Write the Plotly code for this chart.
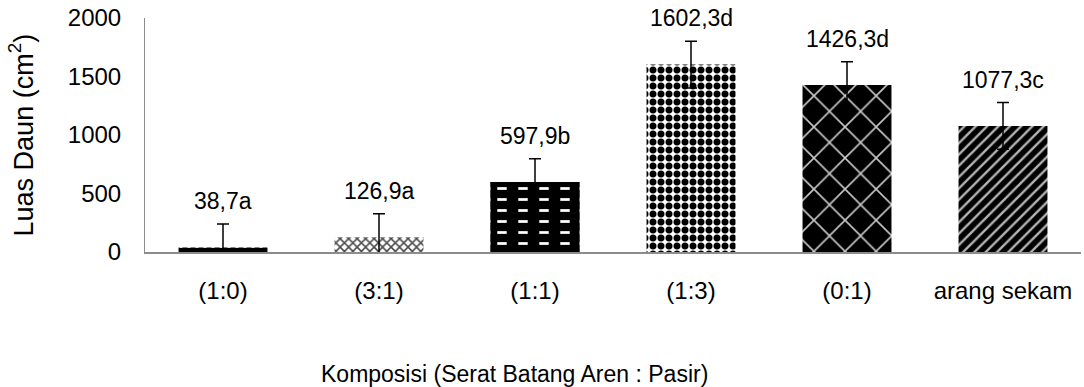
import plotly.graph_objects as go

# Leaf area per growing-medium composition
categories = ["(1:0)", "(3:1)", "(1:1)", "(1:3)", "(0:1)", "arang sekam"]
luas_daun = [38.7, 126.9, 597.9, 1602.3, 1426.3, 1077.3]
galat = [200, 200, 200, 200, 200, 200]
notasi = ["38,7a", "126,9a", "597,9b", "1602,3d", "1426,3d", "1077,3c"]
y_ticks = [0, 500, 1000, 1500, 2000]

FONT = "Liberation Sans, Arial, sans-serif"
BAR_W = 0.57

# Fill pattern for each bar: (shape, foreground, background, size, solidity)
patterns = [
    (".", "#ffffff", "#000000", 8, 0.2),
    ("x", "#4a4a4a", "#ffffff", 6, 0.45),
    ("-", "#ffffff", "#000000", 11, 0.25),
    (".", "#000000", "#ffffff", 8, 0.6),
    ("x", "#c8c8c8", "#000000", 22, 0.14),
    ("/", "#b4b4b4", "#000000", 8, 0.3),
]

fig = go.Figure()
for c, v, e, (shp, fgc, bgc, sz, sol) in zip(categories, luas_daun, galat, patterns):
    fig.add_trace(go.Bar(
        x=[c], y=[v], width=BAR_W,
        marker=dict(color=bgc, line=dict(width=0),
                    pattern=dict(shape=shp, fgcolor=fgc, bgcolor=bgc,
                                 size=sz, solidity=sol, fillmode="replace")),
        error_y=dict(type="data", array=[e], visible=True,
                     color="#000000", thickness=1.5, width=6),
        showlegend=False,
    ))

# Vertical black bands break the white stripes of (1:1) into dashes
k = 2
fig.add_trace(go.Bar(
    x=[categories[k]], y=[luas_daun[k]], width=BAR_W,
    marker=dict(color="rgba(0,0,0,0)", line=dict(width=0),
                pattern=dict(shape="|", fgcolor="#000000",
                             bgcolor="rgba(0,0,0,0)", size=21,
                             solidity=0.55, fillmode="replace")),
    showlegend=False, hoverinfo="skip",
))

# Value labels above the error bars
for c, v, e, t in zip(categories, luas_daun, galat, notasi):
    fig.add_annotation(x=c, y=v + e, text=t, showarrow=False,
                       xref="x", yref="y", yanchor="bottom", yshift=8,
                       font=dict(family=FONT, size=23, color="#000000"))

# Axis titles
fig.add_annotation(text="Luas Daun (cm<sup>2</sup>)", textangle=-90,
                   xref="paper", yref="paper", x=-0.132, y=0.5,
                   xanchor="center", yanchor="middle", showarrow=False,
                   font=dict(family=FONT, size=27, color="#000000"))
fig.add_annotation(text="Komposisi (Serat Batang Aren : Pasir)",
                   xref="paper", yref="paper", x=0.395, y=-0.52,
                   xanchor="center", yanchor="middle", showarrow=False,
                   font=dict(family=FONT, size=23, color="#000000"))

fig.update_layout(
    width=1084, height=387,
    margin=dict(l=145, r=3, t=18, b=135),
    barmode="overlay",
    plot_bgcolor="#ffffff", paper_bgcolor="#ffffff",
    font=dict(family=FONT, size=24, color="#000000"),
)
fig.update_xaxes(showgrid=False, showline=True, linecolor="#8c8c8c",
                 linewidth=2, ticks="", ticklabelstandoff=16,
                 tickfont=dict(family=FONT, size=24, color="#000000"))
fig.update_yaxes(range=[0, 2000], tickvals=y_ticks, showgrid=False,
                 zeroline=False, showline=True, linecolor="#8c8c8c",
                 linewidth=1, ticks="", ticklabelstandoff=18,
                 tickfont=dict(family=FONT, size=24, color="#000000"))

fig.write_html("out.html")
